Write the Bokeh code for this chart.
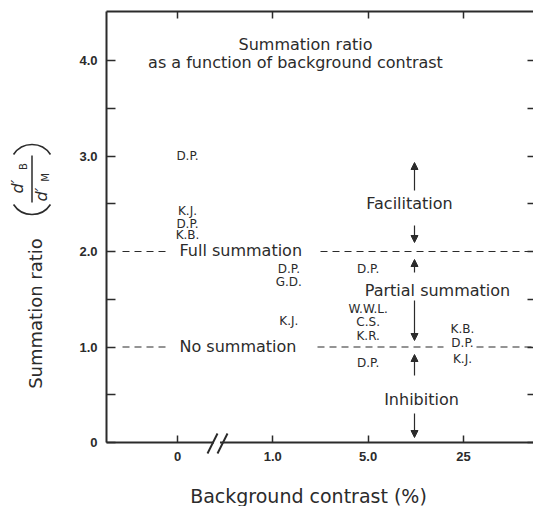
import math
from bokeh.plotting import figure
from bokeh.models import (Range1d, FixedTicker, LinearAxis, Label, Arrow,
                          NormalHead, BoxAnnotation, ColumnDataSource)
from bokeh.core.properties import value
from bokeh.embed import file_html
from bokeh.resources import INLINE

# ---------------- data ----------------
contrast_labels = ["0", "1.0", "5.0", "25"]          # background contrast (%)
observers = ["D.P.", "K.J.", "D.P.", "K.B.",
             "D.P.", "G.D.", "K.J.",
             "D.P.", "W.W.L.", "C.S.", "K.R.", "D.P.",
             "K.B.", "D.P.", "K.J."]
contrast_index = [0, 0, 0, 0,
                  1, 1, 1,
                  2, 2, 2, 2, 2,
                  3, 3, 3]
summation_ratio = [3.00, 2.42, 2.29, 2.17,
                   1.82, 1.68, 1.27,
                   1.82, 1.40, 1.26, 1.12, 0.83,
                   1.19, 1.04, 0.87]
y_ticks = [0, 1, 2, 3, 4]
y_tick_labels = ["0", "1.0", "2.0", "3.0", "4.0"]
y_half_ticks = [0.5, 1.5, 2.5, 3.5]
full_summation = 2.0
no_summation = 1.0

# ---------------- layout helpers ----------------
W, H = 533, 506
INK = "#2b2b2b"
FONT = "DejaVu Sans"
X0PX, XSTEP = 177.0, 95.33     # pixel of category 0, pixels per category
Y0PX, YSTEP = 442.0, 95.5      # pixel of ratio 0, pixels per unit
LEFT, RIGHT, TOP = 106, 533, 11


def dx(px):
    return (px - X0PX) / XSTEP


def dy(py):
    return (Y0PX - py) / YSTEP


p = figure(width=W, height=H, output_backend="svg", toolbar_location=None,
           x_range=Range1d(dx(0), dx(W)), y_range=Range1d(dy(H), dy(0)),
           min_border=0, x_axis_location=None, y_axis_location=None)
p.outline_line_color = None
p.background_fill_color = "white"
p.border_fill_color = "white"
p.grid.visible = False


def style_axis(ax, tick_in, labels=True, line=True):
    ax.major_tick_in = tick_in
    ax.major_tick_out = 0
    ax.minor_tick_in = tick_in
    ax.minor_tick_out = 0
    ax.major_tick_line_color = INK
    ax.minor_tick_line_color = INK
    ax.major_tick_line_width = 1.5
    ax.minor_tick_line_width = 1.5
    ax.axis_line_color = INK if line else None
    ax.axis_line_width = 2
    if labels:
        ax.major_label_text_font = "Liberation Sans"
        ax.major_label_text_font_style = "bold"
        ax.major_label_text_font_size = "13px"
        ax.major_label_text_color = INK
    else:
        ax.major_label_text_font_size = "0px"
        ax.major_label_standoff = 0


cat_ticks = list(range(len(contrast_labels)))
xbounds = (dx(LEFT), dx(RIGHT))
ybounds = (0, dy(TOP))

# bottom axis (categories)
xb = LinearAxis(ticker=FixedTicker(ticks=cat_ticks), fixed_location=0,
                bounds=xbounds,
                major_label_overrides={i: s for i, s in enumerate(contrast_labels)})
style_axis(xb, 7)
xb.major_label_standoff = 9
p.add_layout(xb, "below")

# top axis (ticks only)
xt = LinearAxis(ticker=FixedTicker(ticks=cat_ticks), fixed_location=dy(TOP),
                bounds=xbounds, major_label_overrides={i: "" for i in cat_ticks})
style_axis(xt, 7, labels=False)
p.add_layout(xt, "above")

# left axis
yl = LinearAxis(ticker=FixedTicker(ticks=y_ticks, minor_ticks=y_half_ticks),
                fixed_location=dx(LEFT), bounds=ybounds,
                major_label_overrides={t: s for t, s in zip(y_ticks, y_tick_labels)})
style_axis(yl, 9)
yl.major_label_standoff = 9
p.add_layout(yl, "left")

# right axis (ticks only, no line)
yr = LinearAxis(ticker=FixedTicker(ticks=y_ticks, minor_ticks=y_half_ticks),
                fixed_location=dx(RIGHT), bounds=ybounds,
                major_label_overrides={t: "" for t in y_ticks})
style_axis(yr, 6, labels=False, line=False)
p.add_layout(yr, "right")

# ---------------- reference dashed lines ----------------
seg_x0 = [dx(122), dx(320), dx(122), dx(317), dx(476)]
seg_x1 = [dx(166), dx(RIGHT), dx(166), dx(443), dx(RIGHT)]
seg_y = [full_summation, full_summation, no_summation, no_summation, no_summation]
p.segment(x0=seg_x0, y0=seg_y, x1=seg_x1, y1=seg_y, line_color=INK,
          line_width=1.2, line_dash="7 5")

# ---------------- observer labels ----------------
offsets = {0: 10, 1: 16, 2: 0, 3: -1}
src = ColumnDataSource(dict(x=contrast_index, y=summation_ratio, text=observers,
                            xo=[offsets[c] for c in contrast_index]))
p.text(x="x", y="y", text="text", x_offset="xo", source=src,
       text_align="center", text_baseline="middle", text_font=value(FONT),
       text_font_size="12px", text_color=INK)


def lab(text, px, py, size="16px", align="center", angle=0.0, style="normal"):
    p.add_layout(Label(x=dx(px), y=dy(py), text=text, text_font=FONT,
                       text_font_size=size, text_color=INK, text_align=align,
                       text_baseline="middle", angle=angle,
                       text_font_style=style))


# annotations inside the plot
lab("Summation ratio", 305, 44)
lab("as a function of background contrast", 295, 62)
lab("Full summation", 179, 250, align="left")
lab("No summation", 179, 346, align="left")
lab("Facilitation", 409, 203)
lab("Partial summation", 437, 290)
lab("Inhibition", 421, 399)

AX = 414
for y_from, y_to in [(190, 162), (225, 242), (272, 259), (300, 340),
                     (375, 354), (413, 437)]:
    p.add_layout(Arrow(end=NormalHead(size=7, fill_color=INK, line_color=INK,
                                      line_width=1),
                       x_start=dx(AX), y_start=dy(y_from),
                       x_end=dx(AX), y_end=dy(y_to),
                       line_color=INK, line_width=1.2))

# axis break "//"
p.add_layout(BoxAnnotation(left=dx(213.5), right=dx(219.5), bottom=dy(445),
                           top=dy(439), fill_color="white", fill_alpha=1.0,
                           line_color=None))
for x0 in (207, 217):
    p.add_layout(Arrow(start=None, end=None, x_start=dx(x0), y_start=dy(453),
                       x_end=dx(x0 + 10), y_end=dy(433), line_color=INK,
                       line_width=2))

# axis titles
lab("Background contrast (%)", 308, 495, size="19px")
lab("Summation ratio", 35, 313, size="18px", angle=math.pi / 2)

# fraction d'_B / d'_M in large parentheses (drawn as thin arcs)
p.arc(x=[dx(31.5), dx(31.5)], y=[dy(166), dy(192)], radius=22,
      radius_units="screen",
      start_angle=[math.radians(33), math.radians(213)],
      end_angle=[math.radians(147), math.radians(327)],
      line_color=INK, line_width=1.6)
p.add_layout(Arrow(start=None, end=None, x_start=dx(31.5), y_start=dy(202),
                   x_end=dx(31.5), y_end=dy(155), line_color=INK, line_width=1.5))
lab("d\u2032", 17, 186, size="16px", angle=math.pi / 2, style="italic")
lab("B", 23, 166, size="10px", angle=math.pi / 2)
lab("d\u2032", 41, 194, size="16px", angle=math.pi / 2, style="italic")
lab("M", 45, 177, size="10px", angle=math.pi / 2)

open("out.html", "w").write(file_html(p, INLINE))
